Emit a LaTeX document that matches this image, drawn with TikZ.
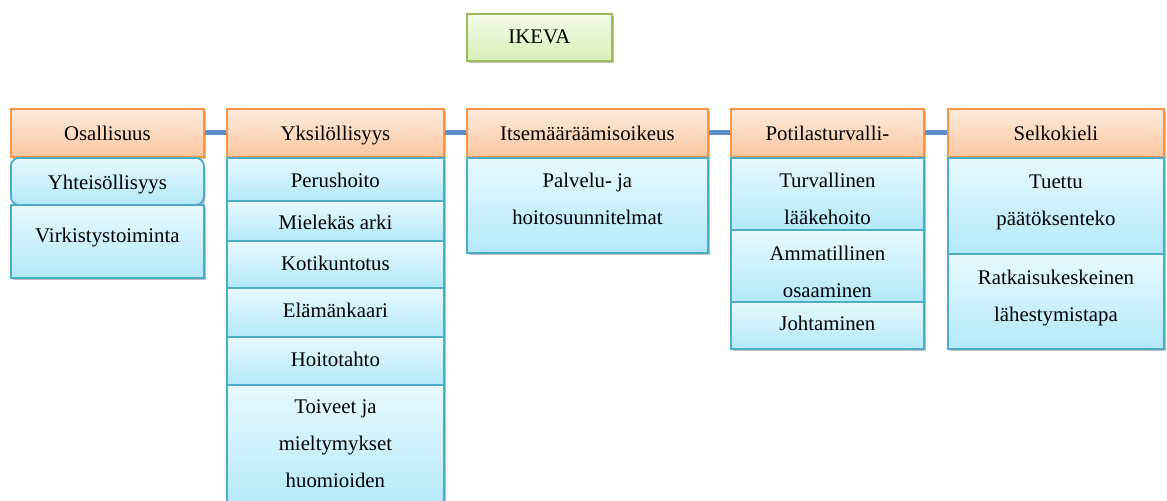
\documentclass[tikz,border=0pt]{standalone}
\usepackage{fontspec}
\setmainfont{Liberation Serif}
\usetikzlibrary{shadows}

\definecolor{headline}{HTML}{F79646}
\definecolor{headtop}{HTML}{FDEBDC}
\definecolor{headbot}{HTML}{FAC7A0}
\definecolor{subline}{HTML}{4BACC6}
\definecolor{subtop}{HTML}{E8F9FE}
\definecolor{subbot}{HTML}{B2E9F9}
\definecolor{topline}{HTML}{9BBB59}
\definecolor{toptop}{HTML}{F4FBEA}
\definecolor{topbot}{HTML}{D7F0B6}
\definecolor{linkblue}{HTML}{5B8FCC}

\tikzset{
  % width, height, last baseline below top (all in px)
  cell/.style n args={3}{anchor=north west, minimum width=#1*0.5pt,
    minimum height=#2*0.5pt, text height=#3*0.5pt, text depth=(#2-#3)*0.5pt},
  cellbox/.style={inner sep=0pt, line width=0.9pt, align=center,
    font=\fontsize{10.4}{18.5}\selectfont,
    drop shadow={shadow xshift=0.8pt, shadow yshift=-1.2pt, opacity=0.25, fill=black}},
  topbox/.style={cellbox, draw=topline, top color=toptop, bottom color=topbot},
  headbox/.style={cellbox, draw=headline, top color=headtop, bottom color=headbot},
  subbox/.style={cellbox, draw=subline, top color=subtop, bottom color=subbot},
  link/.style={draw=linkblue, line width=2.5pt}
}

\begin{document}
\begin{tikzpicture}[x=0.5pt,y=-0.5pt]
  \useasboundingbox (0,0) rectangle (1167,500);
  % top
  \node[topbox, cell={145}{47}{30}] (ikeva) at (466,13) {IKEVA};
  % headers
  \node[headbox, cell={193}{48}{32}] (osal) at (10,108) {Osallisuus};
  \node[headbox, cell={217}{48}{32}] (yksi) at (226,108) {Yksilöllisyys};
  \node[headbox, cell={241}{48}{32}] (itse) at (466,108) {Itsemääräämisoikeus};
  \node[headbox, cell={193}{48}{32}] (poti) at (730,108) {Potilasturvalli-};
  \node[headbox, cell={216}{48}{32}] (selk) at (947,108) {Selkokieli};
  \draw[link] (osal.east) -- (yksi.west);
  \draw[link] (yksi.east) -- (itse.west);
  \draw[link] (itse.east) -- (poti.west);
  \draw[link] (poti.east) -- (selk.west);
  % Osallisuus
  \node[subbox, rounded corners=4pt, cell={193}{47}{32}] (yhte) at (10,157) {Yhteisöllisyys};
  \node[subbox, cell={193}{73}{38}] (virk) at (10,204) {Virkistystoiminta};
  % Yksilollisyys
  \node[subbox, cell={217}{43}{30}] (peru) at (226,157) {Perushoito};
  \node[subbox, cell={217}{40}{29}] (miel) at (226,200) {Mielekäs arki};
  \node[subbox, cell={217}{47}{30}] (koti) at (226,240) {Kotikuntotus};
  \node[subbox, cell={217}{49}{30}] (elam) at (226,287) {Elämänkaari};
  \node[subbox, cell={217}{48}{30}] (hoit) at (226,336) {Hoitotahto};
  \node[subbox, cell={217}{126}{103}] (toiv) at (226,384) {Toiveet ja\\mieltymykset\\huomioiden};
  % Itsemaaraamisoikeus
  \node[subbox, cell={241}{95}{67}] (palv) at (466,157) {Palvelu- ja\\hoitosuunnitelmat};
  % Potilasturvallisuus
  \node[subbox, cell={193}{72}{67}] (turv) at (730,157) {Turvallinen\\lääkehoito};
  \node[subbox, cell={193}{72}{68}] (amma) at (730,229) {Ammatillinen\\osaaminen};
  \node[subbox, cell={193}{47}{29}] (joht) at (730,301) {Johtaminen};
  % Selkokieli
  \node[subbox, cell={216}{96}{68}] (tuet) at (947,157) {Tuettu\\päätöksenteko};
  \node[subbox, cell={216}{95}{68}] (ratk) at (947,253) {Ratkaisukeskeinen\\lähestymistapa};
\end{tikzpicture}
\end{document}
